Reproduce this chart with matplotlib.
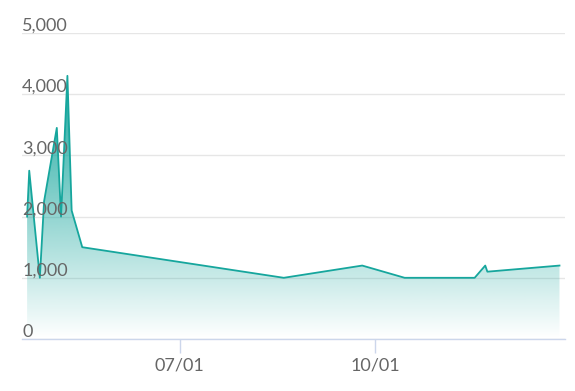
import matplotlib
matplotlib.use('Agg')
import matplotlib.pyplot as plt
import matplotlib.dates as mdates
import matplotlib.transforms as mtransforms
from matplotlib.colors import to_rgb
import numpy as np
import pandas as pd

# data
dates = ['2023-04-20', '2023-04-21', '2023-04-26', '2023-04-28', '2023-05-04',
         '2023-05-06', '2023-05-09', '2023-05-11', '2023-05-16', '2023-08-19',
         '2023-09-25', '2023-10-15', '2023-11-17', '2023-11-22', '2023-11-23',
         '2023-12-27']
values = [2000, 2750, 1000, 2250, 3450, 2000, 4300, 2100, 1500, 1000,
          1200, 1000, 1000, 1200, 1100, 1200]
y_ticks = [0, 1000, 2000, 3000, 4000, 5000]
x_ticks = ['2023-07-01', '2023-10-01']
x_tick_labels = ['07/01', '10/01']

LINE = '#16a69d'
TEXT = '#666666'
GRID = '#e6e6e6'
AXIS = '#ccd6eb'

plt.rcParams['font.family'] = ['Lato', 'DejaVu Sans']

x = mdates.date2num(pd.to_datetime(dates))
y = np.array(values, dtype=float)

fig = plt.figure(figsize=(5.75, 3.91), dpi=100)
ax = fig.add_axes([0.0383, 0.133, 0.9443, 0.7826])

x_lo = x[0] - 2.4
x_hi = x[-1] + 2.6
ax.set_xlim(x_lo, x_hi)
ax.set_ylim(0, 5000)

# gradient area under the line
poly = ax.fill_between(x, y, 0, facecolor='none', edgecolor='none')
r, g, b = to_rgb(LINE)
grad = np.zeros((256, 1, 4))
grad[:, 0, 0] = r
grad[:, 0, 1] = g
grad[:, 0, 2] = b
grad[:, 0, 3] = np.linspace(1.0, 0.0, 256)
img = ax.imshow(grad, aspect='auto', extent=[x[0], x[-1], 0, y.max()],
                origin='upper', zorder=1)
img.set_clip_path(poly.get_paths()[0], transform=ax.transData)

ax.plot(x, y, color=LINE, lw=1.3, zorder=3)

# grid + axes
ax.set_yticks(y_ticks)
ax.yaxis.grid(True, color=GRID, lw=1)
ax.set_axisbelow(True)
ax.tick_params(axis='y', length=0, labelleft=False)
for s in ['top', 'right', 'left']:
    ax.spines[s].set_visible(False)
ax.spines['bottom'].set_color(AXIS)
ax.spines['bottom'].set_linewidth(1)
ax.spines['bottom'].set_zorder(4)

ax.set_xticks(mdates.date2num(pd.to_datetime(x_ticks)))
ax.set_xticklabels(x_tick_labels)
ax.tick_params(axis='x', length=10, width=1, color=AXIS, labelcolor=TEXT,
               labelsize=13, pad=3)

# y labels sit above the grid lines, left aligned
off = mtransforms.offset_copy(ax.get_yaxis_transform(), fig=fig, x=0, y=1.5, units='points')
for v in y_ticks:
    ax.text(0, v, f'{v:,}', transform=off, ha='left', va='baseline',
            fontsize=13, color=TEXT, zorder=5)

fig.savefig('out.png', dpi=100, facecolor='white')
